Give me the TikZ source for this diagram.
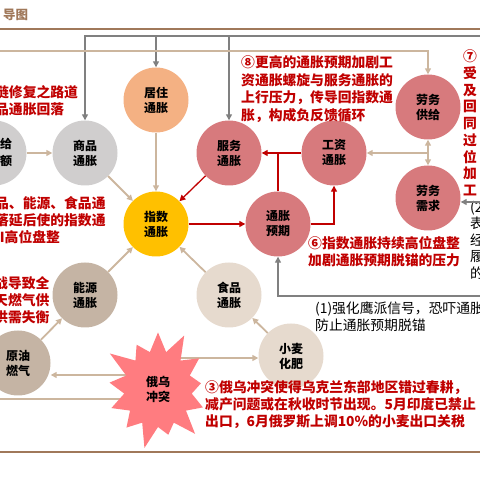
\documentclass[tikz,border=0pt]{standalone}
\usepackage{fontspec}
\setmainfont{Noto Sans CJK SC}
\usetikzlibrary{arrows.meta, shapes.symbols, backgrounds}
\definecolor{headbrown}{RGB}{160,120,90}
\definecolor{notered}{RGB}{192,0,0}
\definecolor{linetan}{RGB}{204,182,158}
\definecolor{linegray}{RGB}{128,128,128}
\definecolor{housepeach}{RGB}{244,177,131}
\definecolor{goodsgray}{RGB}{208,206,206}
\definecolor{servicered}{RGB}{215,122,125}
\definecolor{indexyellow}{RGB}{255,192,0}
\definecolor{energytan}{RGB}{197,180,164}
\definecolor{foodbeige}{RGB}{230,218,206}
\definecolor{burstpink}{RGB}{255,124,128}

\begin{document}
\begin{tikzpicture}[x=1pt, y=1pt,
  bubble/.style={circle, minimum size=65pt, inner sep=0pt, align=center, font=\fontsize{12}{15}\selectfont\bfseries},
  note/.style={anchor=west, inner sep=0pt, align=left, text=notered, font=\fontsize{13.8}{17}\selectfont\bfseries},
  blacknote/.style={anchor=west, inner sep=0pt, align=left, font=\fontsize{13.8}{16.5}\selectfont},
  tanarr/.style={draw=linetan, line width=1.8pt, -{Triangle[length=6pt, width=6pt]}},
  tanline/.style={draw=linetan, line width=1.8pt},
  grayarr/.style={draw=linegray, line width=1.3pt, -{Triangle[length=6pt, width=6pt]}},
  redarr/.style={draw=notered, line width=1.3pt, -{Triangle[length=6pt, width=6pt]}},
  redline/.style={draw=notered, line width=1.3pt}
]
  \useasboundingbox (0,0) rectangle (480,480);

  % header and footer rules
  \node[anchor=west, inner sep=0pt, text=headbrown, font=\fontsize{12.5}{14}\selectfont\bfseries] (title) at (3,465) {导图};
  \draw[headbrown, line width=1.5pt] (0,451) -- (480,451);
  \draw[headbrown, line width=1.5pt] (0,28) -- (480,28);

  % bubbles
  \node[bubble, fill=goodsgray] (gap) at (-6,327) {};
  \node[inner sep=0pt, align=center, font=\fontsize{12}{17}\selectfont\bfseries] (gaptext) at (6,328) {给\\额};
  \node[bubble, fill=goodsgray] (goods) at (85,327) {商品\\通胀};
  \node[bubble, fill=housepeach] (house) at (156,380) {居住\\通胀};
  \node[bubble, fill=servicered] (service) at (229,327) {服务\\通胀};
  \node[bubble, fill=servicered] (wage) at (334,327) {工资\\通胀};
  \node[bubble, fill=servicered] (supply) at (428,373) {劳务\\供给};
  \node[bubble, fill=servicered] (demand) at (428,282) {劳务\\需求};
  \node[bubble, fill=indexyellow] (index) at (156,256) {指数\\通胀};
  \node[bubble, fill=servicered] (expect) at (278,256) {通胀\\预期};
  \node[bubble, fill=energytan] (energy) at (85,185) {能源\\通胀};
  \node[bubble, fill=foodbeige] (food) at (229,185) {食品\\通胀};
  \node[bubble, fill=energytan] (oil) at (18,117) {原油\\燃气};
  \node[bubble, fill=foodbeige] (wheat) at (291,124) {小麦\\化肥};
  \node[starburst, fill=burstpink, starburst points=13, starburst point height=26pt,
    minimum width=120pt, minimum height=128pt, inner sep=0pt, align=center,
    font=\fontsize{12}{15}\selectfont\bfseries] (burst) at (158,91) {俄乌\\冲突};

  % notes
  \node[note] (noteA) at (-5,379) {链修复之路道\\品通胀回落};
  \node[note] (noteB) at (-5,259.5) {品、能源、食品通\\落延后使的指数通\\\hspace*{-14pt}CPI高位盘整};
  \node[note] (noteC) at (-6,180) {战导致全\\天燃气供\\供需失衡};
  \node[note, font=\fontsize{13.8}{17.5}\selectfont\bfseries] (noteEight) at (241,391)
    {⑧更高的通胀预期加剧工\\资通胀螺旋与服务通胀的\\上行压力，传导回指数通\\胀，构成负反馈循环};
  \node[note, font=\fontsize{13.8}{16.75}\selectfont\bfseries] (noteSeven) at (463,357)
    {⑦\\受\\及\\回\\同\\过\\位\\加\\工};
  \node[note] (noteSix) at (308,228.5) {⑥指数通胀持续高位盘整\\加剧通胀预期脱锚的压力};
  \node[note, font=\fontsize{13.8}{17}\selectfont\bfseries] (noteThree) at (205,75)
    {③俄乌冲突使得乌克兰东部地区错过春耕，\\减产问题或在秋收时节出现。5月印度已禁止\\出口，6月俄罗斯上调10\%的小麦出口关税};
  \node[blacknote] (policyOne) at (315,163) {(1)强化鹰派信号，恐吓通胀\\防止通胀预期脱锚};
  \node[blacknote] (policyTwo) at (470,240) {(2\\表\\经\\履\\的};

  % free ends
  \coordinate (grayin) at (480,444);
  \coordinate (tanin) at (0,429);
  \coordinate (labjoint) at (428,327);
  \coordinate (grayone) at (480,184);
  \coordinate (graytwo) at (480,278);
  \coordinate (burstR) at (158,122);
  \coordinate (burstL) at (158,105);
  \coordinate (burstO) at (158,81);
  \coordinate (tanexit) at (0,81);

  % policy (gray)
  \draw[grayarr] (grayin) -| (goods);
  \draw[grayarr] (grayin) -| (house);
  \draw[grayarr] (grayin) -| (service);
  \draw[grayarr] (grayone) -| (expect);
  \draw[grayarr] (graytwo) -- (graytwo -| demand.east);

  % supply side (tan)
  \draw[tanarr] (tanin) -| (supply);
  \draw[tanarr] (labjoint) -- (supply);
  \draw[tanarr] (labjoint) -- (demand);
  \draw[tanarr] (labjoint) -- (wage);
  \draw[tanarr] (gap) -- (goods);
  \draw[tanarr] (goods) -- (index);
  \draw[tanarr] (house) -- (index);
  \draw[tanarr] (energy) -- (index);
  \draw[tanarr] (food) -- (index);
  \draw[tanarr] (oil) -- (energy);
  \draw[tanarr] (wheat) -- (food);
  \begin{scope}[on background layer]
    \draw[tanarr] (burstR) -- (burstR -| wheat.west);
    \draw[tanarr] (burstL) -- (burstL -| oil.east);
    \draw[tanline] (burstO) -- (tanexit);
  \end{scope}

  % spiral (red)
  \draw[redarr] (service) -- (index);
  \draw[redarr] (index) -- (expect);
  \draw[redarr] (expect) -| (wage);
  \draw[redarr] (wage) -- (service);
  \draw[redline] (expect) -- (expect |- wage);
\end{tikzpicture}
\end{document}
